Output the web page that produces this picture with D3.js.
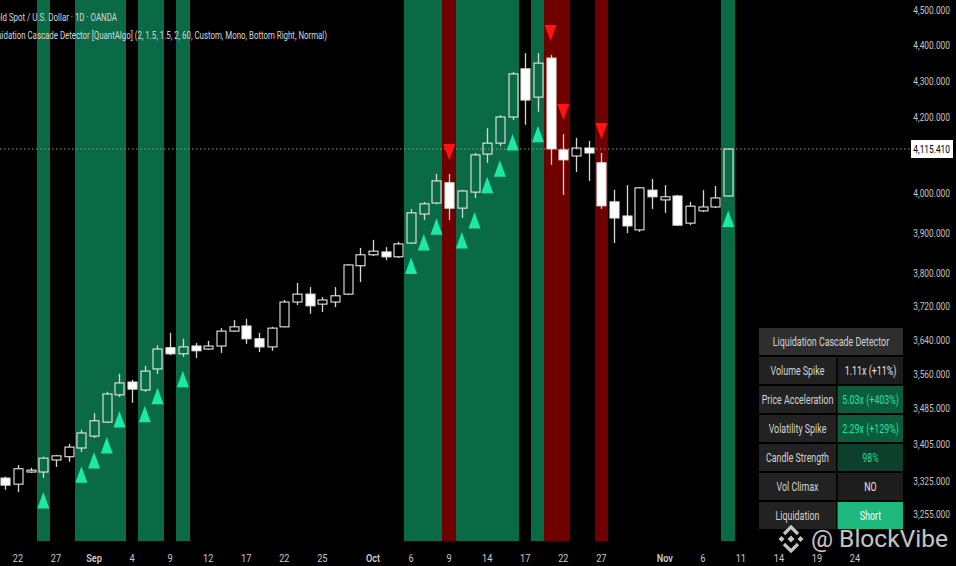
<!DOCTYPE html>
<html><head><meta charset="utf-8">
<script src="https://cdn.jsdelivr.net/npm/d3@7"></script>
<style>html,body{margin:0;padding:0;background:#000;overflow:hidden}svg{display:block}</style>
</head><body><svg id="c" width="956" height="566"></svg>
<script>
// ---------- DATA ----------
const dates = ["2025-08-21","2025-08-22","2025-08-25","2025-08-26","2025-08-27","2025-08-28","2025-08-29",
"2025-09-01","2025-09-02","2025-09-03","2025-09-04","2025-09-05","2025-09-08","2025-09-09","2025-09-10","2025-09-11","2025-09-12",
"2025-09-15","2025-09-16","2025-09-17","2025-09-18","2025-09-19","2025-09-22","2025-09-23","2025-09-24","2025-09-25","2025-09-26",
"2025-09-29","2025-09-30","2025-10-01","2025-10-02","2025-10-03","2025-10-06","2025-10-07","2025-10-08","2025-10-09","2025-10-10",
"2025-10-13","2025-10-14","2025-10-15","2025-10-16","2025-10-17","2025-10-20","2025-10-21","2025-10-22","2025-10-23","2025-10-24",
"2025-10-27","2025-10-28","2025-10-29","2025-10-30","2025-10-31","2025-11-03","2025-11-04","2025-11-05","2025-11-06","2025-11-07","2025-11-10"];
const opens  = [3331,3318,3344,3344,3370,3377,3396,3422,3453,3514,3543,3525,3573,3622,3608,3626,3619,3626,3661,3673,3643,3624,3671,3730,3749,3725,3730,3749,3818,3845,3852,3840,3874,3947,3975,4027,3962,4003,4102,4131,4201,4333,4255,4363,4113,4097,4118,4079,3978,3942,3907,4008,3983,3993,3924,3955,3965,3993];
const highs  = [3334,3359,3353,3377,3381,3405,3436,3473,3521,3562,3548,3580,3628,3657,3643,3633,3638,3668,3687,3690,3657,3671,3735,3776,3766,3742,3766,3822,3862,3882,3864,3877,3960,3978,4050,4050,4009,4105,4171,4206,4324,4377,4377,4372,4155,4145,4137,4105,4009,4021,4016,4037,4021,3996,3978,4008,4019,4116];
const lows   = [3306,3301,3342,3331,3355,3366,3387,3418,3451,3509,3496,3521,3562,3605,3601,3598,3617,3610,3659,3631,3612,3615,3670,3723,3702,3706,3718,3747,3778,3842,3832,3837,3873,3932,3972,3932,3937,3988,4079,4123,4193,4180,4215,4074,3996,4055,4032,3960,3874,3899,3902,3960,3950,3917,3919,3952,3962,3992];
const closes = [3316,3351,3348,3374,3379,3398,3429,3456,3516,3541,3527,3568,3619,3608,3624,3615,3626,3661,3671,3643,3624,3668,3730,3749,3721,3735,3745,3820,3845,3854,3840,3872,3950,3973,4032,3962,4006,4100,4131,4201,4319,4247,4349,4116,4087,4118,4105,3968,3937,3917,4014,3991,3991,3919,3967,3965,3988,4115.41];
const futureDates = ["2025-11-11","2025-11-12","2025-11-13","2025-11-14","2025-11-17","2025-11-18","2025-11-19","2025-11-20","2025-11-21","2025-11-24"];
const bullSignalDates = ["2025-08-26","2025-08-29","2025-09-01","2025-09-02","2025-09-03","2025-09-05","2025-09-08","2025-09-10",
"2025-10-06","2025-10-07","2025-10-08","2025-10-10","2025-10-13","2025-10-14","2025-10-15","2025-10-16","2025-10-20","2025-11-10"];
const bearSignalDates = ["2025-10-09","2025-10-21","2025-10-22","2025-10-27"];
const priceTicks = [4500,4400,4300,4200,4000,3900,3800,3720,3640,3560,3485,3405,3325,3255];
const timeTickDates  = ["2025-08-22","2025-08-27","2025-09-01","2025-09-04","2025-09-09","2025-09-12","2025-09-17","2025-09-22","2025-09-25",
"2025-10-01","2025-10-06","2025-10-09","2025-10-14","2025-10-17","2025-10-22","2025-10-27","2025-11-03","2025-11-06","2025-11-11","2025-11-14","2025-11-19","2025-11-24"];
const timeTickLabels = ["22","27","Sep","4","9","12","17","22","25","Oct","6","9","14","17","22","27","Nov","6","11","14","19","24"];
const lastPrice = 4115.41;
const titleLine1 = "Gold Spot / U.S. Dollar · 1D · OANDA";
const titleLine2 = "Liquidation Cascade Detector [QuantAlgo] (2, 1.5, 1.5, 2, 60, Custom, Mono, Bottom Right, Normal)";
const tableTitle = "Liquidation Cascade Detector";
const tableLabels = ["Volume Spike","Price Acceleration","Volatility Spike","Candle Strength","Vol Climax","Liquidation"];
const tableValues = ["1.11x (+11%)","5.03x (+403%)","2.29x (+129%)","98%","NO","Short"];
const watermark = "@ BlockVibe";

// ---------- STYLE ----------
const FONT = "Roboto, 'Noto Sans', sans-serif";
const W = 956, H = 566, plotBottom = 541;
const svg = d3.select("#c");
svg.append("rect").attr("width", W).attr("height", H).attr("fill", "#000");

// horizontal condensing around the text's anchor x (the reference font is narrow)
function condense(sel, f){
  sel.each(function(){ const ax = +this.getAttribute("x"); this.setAttribute("transform", `translate(${ax*(1-f)},0) scale(${f},1)`); });
}

const x = d3.scalePoint().domain(dates.concat(futureDates)).range([5.3, 855]);
const step = x.step();
const y = d3.scaleLog().domain([3255, 4500]).range([514, 10]);

const candles = dates.map((d,i)=>({d, o:opens[i], h:highs[i], l:lows[i], c:closes[i]}));
const byDate = new Map(candles.map(c=>[c.d,c]));

// signal bands
const bands = svg.append("g").attr("shape-rendering","crispEdges");
function bandRect(sel, color){
  sel.attr("x", d=>Math.floor(x(d)-step/2)).attr("width", d=>Math.ceil(x(d)+step/2)-Math.floor(x(d)-step/2))
     .attr("y",0).attr("height",plotBottom).attr("fill",color);
}
bands.selectAll("rect.bull").data(bullSignalDates).join("rect").attr("class","bull").call(bandRect,"#0a6a46");
bands.selectAll("rect.bear").data(bearSignalDates).join("rect").attr("class","bear").call(bandRect,"#6e0000");

// price line
svg.append("line").attr("x1",0).attr("x2",910).attr("y1",y(lastPrice)).attr("y2",y(lastPrice))
  .attr("stroke","#9a9a9a").attr("stroke-width",1).attr("stroke-dasharray","1.5,2.5");

// candles
const bw = 9;
const cg = svg.append("g");
candles.forEach(c=>{
  const cx = Math.round(x(c.d)) + 0.5;
  const top = y(Math.max(c.o,c.c)), bot = y(Math.min(c.o,c.c));
  const bull = c.c >= c.o;
  cg.append("line").attr("x1",cx).attr("x2",cx).attr("y1",y(c.h)).attr("y2",top).attr("stroke","#d6d6d6").attr("stroke-width",1.3);
  cg.append("line").attr("x1",cx).attr("x2",cx).attr("y1",bot).attr("y2",y(c.l)).attr("stroke","#d6d6d6").attr("stroke-width",1.3);
  cg.append("rect").attr("x",cx-bw/2).attr("width",bw).attr("y",top).attr("height",Math.max(1.5,bot-top))
    .attr("fill", bull ? "none" : "#ffffff").attr("stroke","#e8e8e8").attr("stroke-width",1.1);
});

// signal triangles
const tg = svg.append("g");
bullSignalDates.forEach(d=>{
  const c = byDate.get(d); const cx = x(d); const t = y(c.l) + 14;
  tg.append("path").attr("d", `M${cx},${t} L${cx+6},${t+16.5} L${cx-6},${t+16.5} Z`).attr("fill","#1de9a6");
});
bearSignalDates.forEach(d=>{
  const c = byDate.get(d); const cx = x(d); const b = y(c.h) - 14;
  tg.append("path").attr("d", `M${cx},${b} L${cx+6},${b-16} L${cx-6},${b-16} Z`).attr("fill","#ff1414");
});

// right price axis
const fmt = d3.format(",.3f");
const pa = svg.append("g");
pa.selectAll("text").data(priceTicks).join("text")
  .attr("x",950).attr("y",d=>y(d)).attr("dy","0.35em").attr("text-anchor","end")
  .attr("font-family",FONT).attr("font-size",11).attr("fill","#c4c4c4").text(d=>fmt(d))
  .call(condense, 0.76);
pa.append("rect").attr("x",911).attr("y",y(lastPrice)-9).attr("width",42).attr("height",18).attr("fill","#ffffff");
pa.append("text").attr("x",950).attr("y",y(lastPrice)).attr("dy","0.35em").attr("text-anchor","end")
  .attr("font-family",FONT).attr("font-size",11).attr("fill","#000").text(fmt(lastPrice)).call(condense,0.76);

// time axis
const ta = svg.append("g");
ta.selectAll("text").data(timeTickDates).join("text")
  .attr("x",d=>x(d)).attr("y",562).attr("text-anchor","middle")
  .attr("font-family",FONT).attr("font-size",11.5)
  .attr("font-weight",(d,i)=>/[A-Za-z]/.test(timeTickLabels[i])?600:400)
  .attr("fill","#c8c8c8").text((d,i)=>timeTickLabels[i])
  .call(condense, 0.8);

// title (clipped at the left edge like the reference)
svg.append("text").attr("x",117).attr("y",21).attr("text-anchor","end").attr("font-family",FONT).attr("font-size",11.5)
  .attr("fill","#d8d8d8").text(titleLine1).call(condense,0.69);
svg.append("text").attr("x",327).attr("y",39).attr("text-anchor","end").attr("font-family",FONT).attr("font-size",11.5)
  .attr("fill","#d8d8d8").text(titleLine2).call(condense,0.685);

// table
const tx0 = 759, tsplit = 836, tx1 = 903, ty0 = 328;
const tb = svg.append("g").attr("font-family",FONT).attr("font-size",12);
tb.append("rect").attr("x",tx0).attr("y",ty0).attr("width",tx1-tx0).attr("height",27).attr("fill","#2e2e2e");
tb.append("text").attr("x",(tx0+tx1)/2).attr("y",ty0+13.5).attr("dy","0.35em").attr("text-anchor","middle")
  .attr("fill","#d4d4d4").text(tableTitle).call(condense,0.74);
const valBg = ["#1d1d1d","#0b5b3c","#0b5b3c","#0d402c","#1d1d1d","#1cb87e"];
const valFg = ["#e2e2e2","#1fe3a0","#1fe3a0","#1fd596","#e2e2e2","#ffffff"];
tableLabels.forEach((lab,k)=>{
  const ry = 357 + 29*k;
  tb.append("rect").attr("x",tx0).attr("y",ry).attr("width",tsplit-tx0).attr("height",27).attr("fill","#222222");
  tb.append("rect").attr("x",tsplit+1.5).attr("y",ry).attr("width",tx1-tsplit-1.5).attr("height",27).attr("fill",valBg[k]);
  tb.append("text").attr("x",(tx0+tsplit)/2).attr("y",ry+13.5).attr("dy","0.35em").attr("text-anchor","middle")
    .attr("fill","#d4d4d4").text(lab).call(condense,0.74);
  tb.append("text").attr("x",(tsplit+tx1)/2+1).attr("y",ry+13.5).attr("dy","0.35em").attr("text-anchor","middle")
    .attr("fill",valFg[k]).text(tableValues[k]).call(condense,0.74);
});

// watermark
const wm = svg.append("g").attr("opacity",0.88);
const lx = 791, ly = 539;
wm.append("path").attr("d",`M${lx},${ly-3.5} L${lx+3.5},${ly} L${lx},${ly+3.5} L${lx-3.5},${ly} Z`).attr("fill","#e0e0e0");
wm.append("path").attr("d",`M${lx-9.5},${ly-3} L${lx-6.5},${ly} L${lx-9.5},${ly+3} L${lx-12.5},${ly} Z`).attr("fill","#e0e0e0");
wm.append("path").attr("d",`M${lx+9.5},${ly-3} L${lx+12.5},${ly} L${lx+9.5},${ly+3} L${lx+6.5},${ly} Z`).attr("fill","#e0e0e0");
wm.append("path").attr("d",`M${lx-7},${ly-5} L${lx},${ly-12} L${lx+7},${ly-5}`).attr("fill","none").attr("stroke","#e0e0e0").attr("stroke-width",3.2);
wm.append("path").attr("d",`M${lx-7},${ly+5} L${lx},${ly+12} L${lx+7},${ly+5}`).attr("fill","none").attr("stroke","#e0e0e0").attr("stroke-width",3.2);
wm.append("text").attr("x",811).attr("y",547).attr("font-family",FONT).attr("font-size",24).attr("fill","#e0e0e0").text(watermark)
  .attr("textLength",137).attr("lengthAdjust","spacingAndGlyphs");
</script></body></html>
